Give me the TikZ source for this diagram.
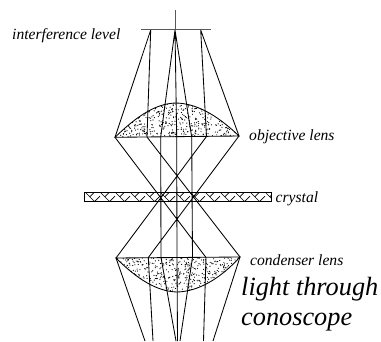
\documentclass[tikz,border=0pt]{standalone}
\usepackage{fontspec}
\setmainfont{Liberation Serif}
\tikzset{
  ray/.style={line width=0.85pt,black},
  lab/.style={inner sep=0pt,anchor=base west,font=\itshape\fontsize{15.6}{17}\selectfont},
  big/.style={inner sep=0pt,anchor=base west,font=\itshape\fontsize{26.3}{30}\selectfont},
}
\begin{document}
\begin{tikzpicture}[x=1pt,y=-1pt]
\useasboundingbox[fill=white] (0,0) rectangle (381,341);
% points
\coordinate (ptop) at (175,10);
\coordinate (pl) at (141,29.5);
\coordinate (pr) at (211,29.5);
\coordinate (p1) at (150.7,30);
\coordinate (p2) at (175,30);
\coordinate (p3) at (200.7,30);
\coordinate (ua) at (115,137.3);
\coordinate (ub) at (147,137);
\coordinate (uc) at (160.7,137);
\coordinate (ud) at (176.7,137);
\coordinate (ue) at (191.7,137);
\coordinate (uf) at (206.5,136.5);
\coordinate (ug) at (239,136);
\coordinate (la) at (116,258);
\coordinate (lb) at (148.3,257.5);
\coordinate (lc) at (161,257.5);
\coordinate (ld) at (177,257.5);
\coordinate (le) at (192.5,257.5);
\coordinate (lf) at (206,257.5);
\coordinate (lg) at (240,257);
\coordinate (ba) at (145,341);
\coordinate (bb) at (153,341);
\coordinate (bc) at (176,341);
\coordinate (bd) at (177.5,341);
\coordinate (be) at (180,341);
\coordinate (bf) at (203.5,341);
\coordinate (bg) at (213,341);
% lens fills
\pgfmathsetseed{4217}
\begin{scope}
\clip (ua) .. controls (140,113) and (158,103.5) .. (176,103) .. controls (195,103.5) and (215,113) .. (ug) -- cycle;
\foreach \i in {1,...,520}{
  \pgfmathsetmacro{\px}{115+124*rnd}
  \pgfmathsetmacro{\py}{103+34*rnd}
  \fill (\px,\py) circle (0.6pt);
}
\end{scope}
\begin{scope}
\clip (la) .. controls (137,279) and (157,291.5) .. (177,292) .. controls (198,291.5) and (220,279) .. (lg) -- cycle;
\foreach \i in {1,...,520}{
  \pgfmathsetmacro{\px}{116+124*rnd}
  \pgfmathsetmacro{\py}{258+34*rnd}
  \fill (\px,\py) circle (0.6pt);
}
\end{scope}
\draw[ray] (ua) .. controls (140,113) and (158,103.5) .. (176,103) .. controls (195,103.5) and (215,113) .. (ug) -- cycle;
\draw[ray] (la) .. controls (137,279) and (157,291.5) .. (177,292) .. controls (198,291.5) and (220,279) .. (lg) -- cycle;
% crystal
\begin{scope}
\clip (84,192) rectangle (271,201.5);
\foreach \x in {70,85,...,265}{
  \draw[line width=0.7pt] (\x,192) -- (\x+9.5,201.5) -- (\x+15,196)
     (\x+9.5,192) -- (\x+5,196.5);
}
\end{scope}
\draw[line width=0.9pt] (84,192) rectangle (271,201.5);
% top
\draw[line width=0.9pt,black!65] (pl) -- (pr);
\draw[line width=0.9pt,black!65] (ptop) -- (p2);
% rays above upper lens
\draw[ray] (p1) -- (ua) (p1) -- (ub) (p2) -- (uc) (p2) -- (ud) (p2) -- (ue) (p3) -- (uf) (p3) -- (ug);
% between lenses
\draw[ray] (ua) -- (lf) (ub) -- (lg) (uf) -- (la) (ug) -- (lb)
  (uc) -- (lc) (ud) -- (ld) (ue) -- (le);
% below lower lens
\draw[ray] (la) -- (ba) (lb) -- (bb) (lc) -- (bc) (ld) -- (bd) (le) -- (be) (lf) -- (bf) (lg) -- (bg);
% labels
\node[lab] (t1) at (12,39) {interference level};
\node[lab] (t2) at (249,140) {objective lens};
\node[lab] (t3) at (275.5,202.5) {crystal};
\node[lab] (t4) at (250,265) {condenser lens};
\node[big] (t5) at (241,295) {light through};
\node[big] (t6) at (241,325.5) {conoscope};
\end{tikzpicture}
\end{document}
